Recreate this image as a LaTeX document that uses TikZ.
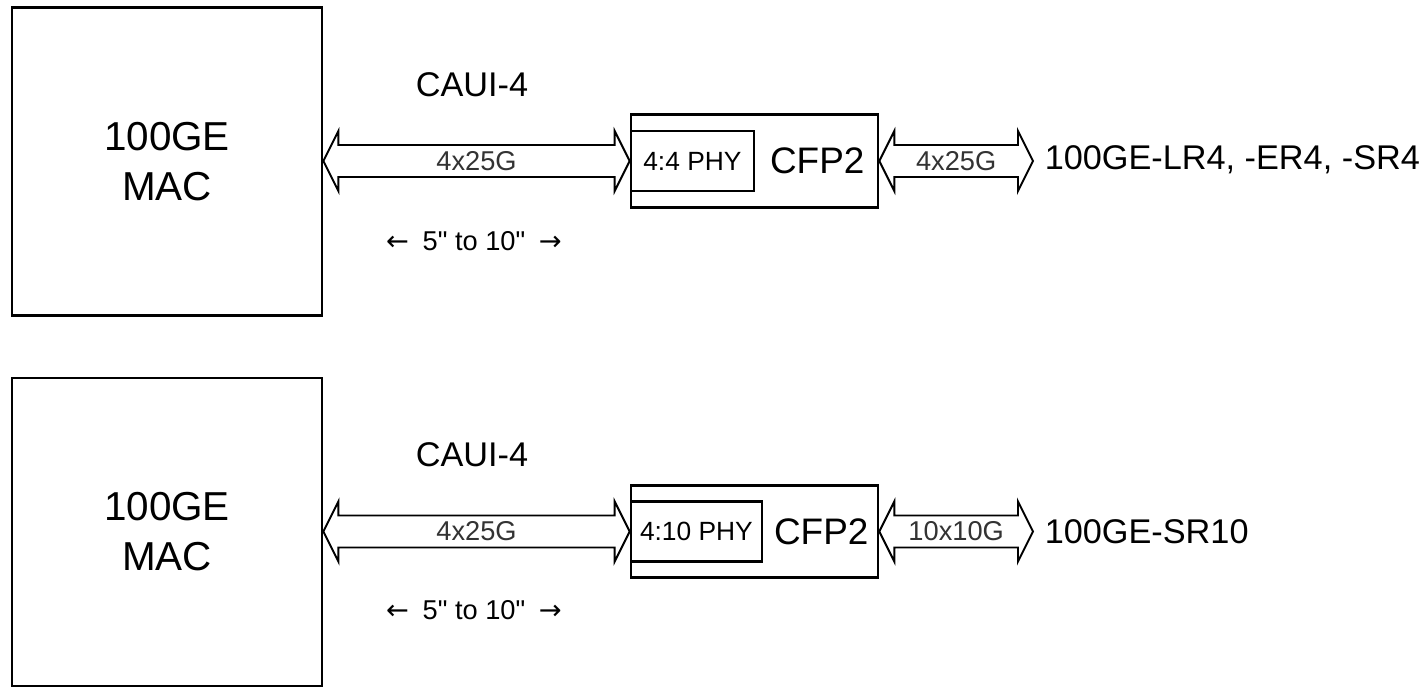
\documentclass[tikz,border=0pt]{standalone}
\usepackage{fontspec}
\setmainfont{Liberation Sans}
\newfontfamily\arrowfont{DejaVu Sans}
\usetikzlibrary{calc, positioning}

% fat hollow double arrow between two points, label in the middle
\newcommand{\fatarrow}[3]{%
  \draw[fatline] let \p1=(#1), \p2=(#2) in
    (\x1,\y1) -- (\x1+0.3cm,\y1+0.6cm) -- (\x1+0.3cm,\y1+0.32cm)
    -- (\x2-0.3cm,\y1+0.32cm) -- (\x2-0.3cm,\y1+0.6cm) -- (\x2,\y1)
    -- (\x2-0.3cm,\y1-0.6cm) -- (\x2-0.3cm,\y1-0.32cm)
    -- (\x1+0.3cm,\y1-0.32cm) -- (\x1+0.3cm,\y1-0.6cm) -- cycle
    node[lanelabel] at ({(\x1+\x2)/2},\y1) {#3};
}

\begin{document}
\begin{tikzpicture}[
  macbox/.style   = {draw, line width=1.6pt, minimum width=6.2cm, minimum height=6.16cm,
                     align=center, font=\fontsize{23}{28.5}\selectfont},
  cfpbox/.style   = {draw, line width=1.5pt, minimum width=4.94cm, minimum height=1.85cm,
                     inner sep=0pt},
  phybox/.style   = {draw, line width=1.4pt, minimum height=1.2cm, inner sep=0pt,
                     anchor=west, font=\fontsize{15}{18}\selectfont},
  cfplabel/.style = {font=\fontsize{21}{25}\selectfont},
  fatline/.style  = {draw, fill=white, line width=1.1pt, line join=miter},
  lanelabel/.style= {font=\fontsize{15.5}{18}\selectfont, text=black!80},
  outlabel/.style = {anchor=west, inner xsep=6.5pt, font=\fontsize{19.5}{23}\selectfont},
  buslabel/.style = {font=\fontsize{19.5}{23}\selectfont},
  distlabel/.style= {font=\fontsize{15.5}{18}\selectfont},
]
\useasboundingbox (0,0) rectangle (28.48,13.74);

% ---- upper row: 4:4 PHY
\node[macbox] (mac1) at (3.34,10.51) {100GE\\MAC};
\node[cfpbox] (cfp1) at (15.09,10.52) {};
\node[phybox, minimum width=2.46cm] (phy1) at (cfp1.west) {4:4 PHY};
\node[cfplabel] (cfpname1) at ($(phy1.east)!0.5!(cfp1.east)$) {CFP2};
\node[outlabel] (lr4) at (20.66,10.54) {100GE-LR4, -ER4, -SR4};
\node[buslabel] (caui1) at (9.44,12.04) {CAUI-4};
\node[distlabel] (dist1) at (9.48,8.92)
  {{\arrowfont ←}\enspace 5\textquotedbl{} to 10\textquotedbl\enspace{\arrowfont →}};

\fatarrow{mac1.east |- cfp1.west}{cfp1.west}{4x25G}
\fatarrow{cfp1.east}{lr4.west}{4x25G}

% ---- lower row: 4:10 PHY
\node[macbox] (mac2) at (3.34,3.10) {100GE\\MAC};
\node[cfpbox] (cfp2) at (15.09,3.11) {};
\node[phybox, minimum width=2.62cm] (phy2) at (cfp2.west) {4:10 PHY};
\node[cfplabel] (cfpname2) at ($(phy2.east)!0.5!(cfp2.east)$) {CFP2};
\node[outlabel] (sr10) at (20.66,3.10) {100GE-SR10};
\node[buslabel] (caui2) at (9.44,4.64) {CAUI-4};
\node[distlabel] (dist2) at (9.48,1.54)
  {{\arrowfont ←}\enspace 5\textquotedbl{} to 10\textquotedbl\enspace{\arrowfont →}};

\fatarrow{mac2.east |- cfp2.west}{cfp2.west}{4x25G}
\fatarrow{cfp2.east}{sr10.west}{10x10G}

\end{tikzpicture}
\end{document}
